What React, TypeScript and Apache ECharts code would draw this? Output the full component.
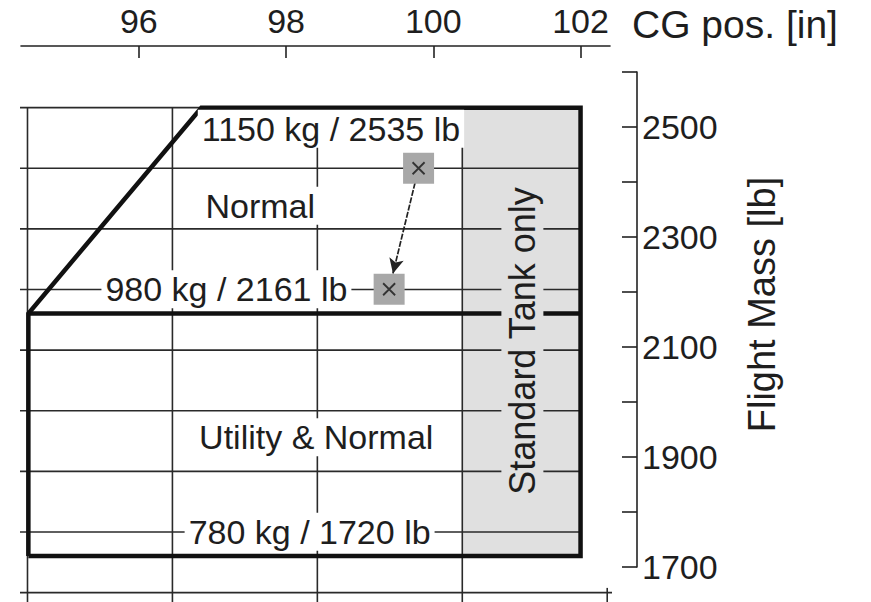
import React, { useEffect, useRef } from "react";
import * as echarts from "echarts";

// ---- data ----
const LB_PER_KG = 2.20462;
const MM_PER_IN = 25.4;

const xTickValues = [96, 98, 100, 102];
const yTickValues = [1700, 1800, 1900, 2000, 2100, 2200, 2300, 2400, 2500, 2600];
const yLabelValues = [1700, 1900, 2100, 2300, 2500];

const kgGridLines = [1150, 1100, 1050, 1000, 950, 900, 850, 800, 750];
const mmGridLines = [2400, 2450, 2500, 2550];
const mmShortTicks = [2600];

const envelopeCg = [94.5, 94.5, 96.85, 102.0, 102.0, 94.5];
const envelopeMass = [1720, 2161, 2535, 2535, 1720, 1720];
const utilityLimitCg = [94.5, 102.0];
const utilityLimitMass = [2161, 2161];
const standardTankCg = [100.4, 102.0];
const standardTankMass = [2535, 1720];

const flightCg = [99.8, 99.4];
const flightMass = [2425, 2205];

const annotationTexts = ["1150 kg / 2535 lb", "Normal", "980 kg / 2161 lb", "Utility & Normal", "780 kg / 1720 lb"];
const annotationCg = [98.61, 97.65, 97.19, 98.41, 98.32];
const annotationMass = [2497, 2357, 2205, 1936, 1764];
const tankText = "Standard Tank only";
const tankTextCg = 101.21;
const tankTextMass = 2111;

// ---- styles ----
const FONT = "'Liberation Sans', Arial, sans-serif";
const INK = "#1e1e1e";
const GRID_LINE = "#2a2a2a";

const gridLeftCg = 94.37;
const gridTopMass = 2535;
const gridBottomMass = 1636;

function lineSeries(points: number[][], width: number, color: string, z: number, extra: any = {}) {
  return {
    type: "line",
    data: points,
    symbol: "none",
    clip: false,
    silent: true,
    z,
    lineStyle: { color, width, join: "miter", cap: "butt", ...extra },
  };
}

export default function App() {
  const ref = useRef<HTMLDivElement>(null);
  useEffect(() => {
    if (!ref.current) return;
    const chart = echarts.init(ref.current, null, { renderer: "svg" });

    const series: any[] = [];

    // gray "standard tank only" area
    series.push({
      type: "line",
      data: [],
      z: 1,
      silent: true,
      markArea: {
        silent: true,
        itemStyle: { color: "#e0e0e0", opacity: 1 },
        data: [[{ coord: [standardTankCg[0], standardTankMass[0]] }, { coord: [standardTankCg[1], standardTankMass[1]] }]],
      },
    });

    // kg grid lines (horizontal)
    kgGridLines.forEach((kg) => {
      const lb = kg * LB_PER_KG;
      const endCg = kg === 750 ? 102.95 : 102.0;
      series.push(lineSeries([[gridLeftCg, lb], [endCg, lb]], 1.6, GRID_LINE, 2));
    });
    // mm grid lines (vertical)
    mmGridLines.forEach((mm) => {
      const inch = mm / MM_PER_IN;
      series.push(lineSeries([[inch, gridTopMass], [inch, gridBottomMass]], 1.6, GRID_LINE, 2));
    });
    mmShortTicks.forEach((mm) => {
      const inch = mm / MM_PER_IN;
      series.push(lineSeries([[inch, 1662], [inch, gridBottomMass]], 1.6, GRID_LINE, 2));
    });

    // envelope
    series.push(lineSeries(envelopeCg.map((c, i) => [c, envelopeMass[i]]), 4.5, "#111", 3));
    series.push(lineSeries(utilityLimitCg.map((c, i) => [c, utilityLimitMass[i]]), 4.5, "#111", 3));

    // annotations
    series.push({
      type: "scatter",
      symbolSize: 0,
      z: 4,
      silent: true,
      clip: false,
      itemStyle: { opacity: 1 },
      label: {
        show: true,
        position: "inside",
        formatter: (p: any) => p.name,
        fontFamily: FONT,
        fontSize: 34,
        color: INK,
        textBorderWidth: 0,
        backgroundColor: "#ffffff",
        padding: [2, 4],
      },
      data: [
        ...annotationTexts.map((t, i) => ({ name: t, value: [annotationCg[i], annotationMass[i]] })),
        {
          name: tankText,
          value: [tankTextCg, tankTextMass],
          label: { rotate: 90, backgroundColor: "#e0e0e0", padding: [3, 6], fontSize: 36 },
        },
      ],
    });

    // arrow between flight points
    const t0 = 0.12;
    const t1 = 0.87;
    const p = (t: number) => [flightCg[0] + (flightCg[1] - flightCg[0]) * t, flightMass[0] + (flightMass[1] - flightMass[0]) * t];
    series.push({
      type: "line",
      data: [],
      z: 5,
      silent: true,
      markLine: {
        silent: true,
        symbol: ["none", "arrow"],
        symbolSize: [11, 15],
        label: { show: false },
        lineStyle: { color: "#222", width: 1.7, type: [6, 1.5], opacity: 1 },
        data: [[{ coord: p(t0) }, { coord: p(t1) }]],
      },
    });

    // flight point markers
    series.push({
      type: "scatter",
      symbol: "rect",
      symbolSize: 31,
      z: 6,
      silent: true,
      itemStyle: { color: "#a8a8a8", opacity: 1 },
      data: flightCg.map((c, i) => [c, flightMass[i]]),
    });
    series.push({
      type: "scatter",
      symbol: "path://M0,0L10,10M10,0L0,10",
      symbolSize: 12,
      z: 7,
      silent: true,
      itemStyle: { color: "none", borderColor: "#333", borderWidth: 1.8, opacity: 1 },
      data: flightCg.map((c, i) => [c, flightMass[i]]),
    });

    chart.setOption({
      animation: false,
      backgroundColor: "#ffffff",
      grid: { left: 21, top: 72, width: 589, height: 495, outerBoundsMode: "none", containLabel: false },
      xAxis: {
        type: "value",
        position: "top",
        offset: 26,
        min: 94.4,
        max: 102.4,
        axisLine: { show: true, lineStyle: { color: "#222", width: 1.6 } },
        axisTick: { show: true, inside: true, length: 12, customValues: xTickValues, lineStyle: { color: "#222", width: 1.6 } },
        axisLabel: { show: true, customValues: xTickValues, fontSize: 34, color: INK, fontFamily: FONT, margin: 8, formatter: (v: number) => String(v) },
        splitLine: { show: false },
        name: "CG pos. [in]",
        nameLocation: "end",
        nameGap: 22,
        nameTextStyle: { fontSize: 39, color: INK, fontFamily: FONT, verticalAlign: "bottom", padding: [0, 0, 2, 0] },
      },
      yAxis: {
        type: "value",
        position: "right",
        offset: 27,
        min: 1700,
        max: 2600,
        axisLine: { show: true, lineStyle: { color: "#222", width: 1.6 } },
        axisTick: { show: true, inside: true, length: 15, customValues: yTickValues, lineStyle: { color: "#222", width: 1.6 } },
        axisLabel: { show: true, customValues: yLabelValues, fontSize: 34, color: INK, fontFamily: FONT, margin: 5, formatter: (v: number) => String(v) },
        splitLine: { show: false },
        name: "Flight Mass [lb]",
        nameLocation: "middle",
        nameRotate: 90,
        nameGap: 106,
        nameTextStyle: { fontSize: 38, color: INK, fontFamily: FONT, padding: [0, 0, 0, 30] },
      },
      series,
    });
    return () => chart.dispose();
  }, []);
  return <div ref={ref} style={{ position: "absolute", left: 0, top: 0, width: 871, height: 602 }} />;
}
